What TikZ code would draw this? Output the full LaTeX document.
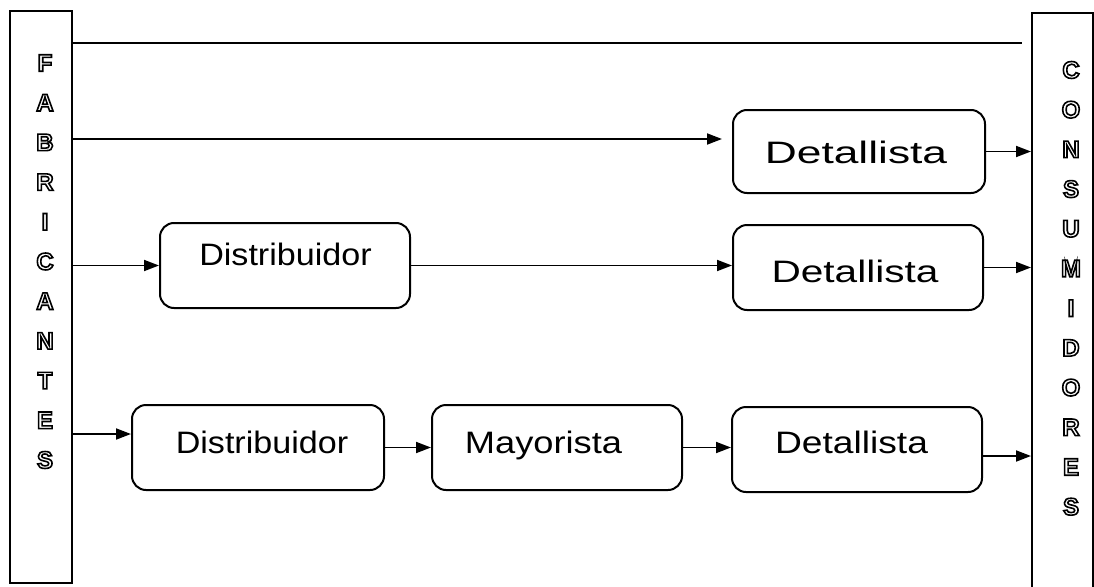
\documentclass[tikz,border=0pt]{standalone}
\usepackage{fontspec}
\setmainfont{Liberation Sans}
\usepackage{graphicx}
\usetikzlibrary{arrows.meta}
% hollow capital: glyph drawn as a stroked outline only
\newcommand{\hollow}[1]{\special{pdf:literal direct 1 Tr 1.6 w}#1\special{pdf:literal direct 0 Tr}}

\begin{document}
\begin{tikzpicture}[x=1pt,y=-1pt,
  flow/.style={draw=black,line width=2pt,rounded corners=14pt,
    minimum width=250pt,minimum height=85pt,inner sep=0pt},
  column/.style={draw=black,line width=2pt,inner sep=0pt},
  word/.style={anchor=base,inner sep=0pt,font=\fontsize{31}{31}\selectfont},
  letter/.style={inner sep=0pt,font=\fontsize{24}{24}\selectfont\bfseries},
  arr/.style={line width=1.8pt,-{Triangle[length=15pt,width=11pt]}},
  plain/.style={line width=1.9pt}
]
\useasboundingbox (0,0) rectangle (1094,586);
\fill[white] (0,0) rectangle (1094,586);

% side columns
\node[column,minimum width=62pt,minimum height=572pt] (fab) at (41,297) {};
\node[column,minimum width=61pt,minimum height=590pt] (con) at (1062.5,308) {};

\foreach \ch [count=\i from 0] in {F,A,B,R,I,C,A,N,T,E,S}
  \node[letter] (fab-\i) at (45,{63+39.7*\i}) {\hollow{\ch}};
\foreach \ch [count=\i from 0] in {C,O,N,S,U,M,I,D,O,R,E,S}
  \node[letter] (con-\i) at (1071,{70+39.7*\i}) {\hollow{\ch}};

% top rule
\coordinate (topend) at (1022,43);
\draw[plain] (fab.east |- topend) -- (topend);

% channel boxes
\node[flow,minimum width=252pt,minimum height=83pt] (d1) at (859,151.5) {};
\node[flow] (dist1) at (285,265.5) {};
\node[flow] (d2) at (858,267.5) {};
\node[flow,minimum width=252pt] (dist2) at (258,447.5) {};
\node[flow] (may) at (557,447.5) {};
\node[flow] (d3) at (857,449.5) {};

% box labels
\node[word] (t-d1) at (856,163) {\scalebox{1.43}[1]{Detallista}};
\node[word] (t-dist1) at (285.5,265) {\scalebox{1.10}[1]{Distribuidor}};
\node[word] (t-d2) at (855,282) {\scalebox{1.31}[1]{Detallista}};
\node[word] (t-dist2) at (262,453) {\scalebox{1.10}[1]{Distribuidor}};
\node[word] (t-may) at (543.5,453) {\scalebox{1.17}[1]{Mayorista}};
\node[word] (t-d3) at (851.5,453) {\scalebox{1.2}[1]{Detallista}};

% row 1
\coordinate (r1tip) at (722,139);
\draw[arr] (fab.east |- r1tip) -- (r1tip);
\draw[arr] (d1.east) -- (con.west |- d1.east);

% row 2
\draw[arr] (fab.east |- dist1.west) -- (dist1.west);
\draw[arr] (dist1.east) -- (d2.west |- dist1.east);
\draw[arr] (d2.east) -- (con.west |- d2.east);

% row 3
\coordinate (r3in) at (132,434);
\coordinate (r3out) at (1000,456);
\draw[arr] (fab.east |- r3in) -- (dist2.west |- r3in);
\draw[arr] (dist2.east) -- (may.west);
\draw[arr] (may.east) -- (d3.west |- may.east);
\draw[arr] (d3.east |- r3out) -- (con.west |- r3out);
\end{tikzpicture}
\end{document}
